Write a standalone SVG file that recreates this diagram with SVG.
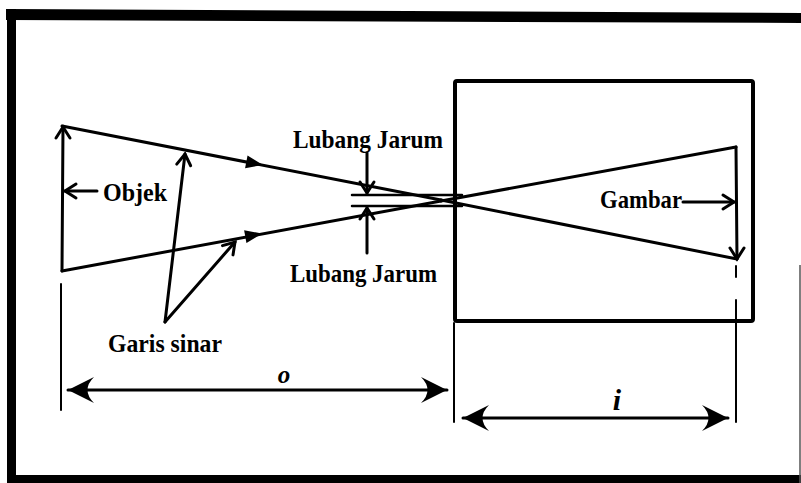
<svg xmlns="http://www.w3.org/2000/svg" width="801" height="483" viewBox="0 0 801 483">
  <style>
    .ln { stroke: #000; fill: none; stroke-linecap: round; stroke-linejoin: round; }
    .ray { stroke-width: 3; }
    .thin { stroke-width: 2; }
    .lbl { font-family: "Liberation Serif", "Times New Roman", serif; font-weight: bold; font-size: 26px; fill: #000; }
    .var { font-family: "Liberation Serif", "Times New Roman", serif; font-weight: bold; font-style: italic; fill: #000; text-anchor: middle; }
    .chev { stroke: #000; stroke-width: 3; fill: none; stroke-linecap: round; stroke-linejoin: miter; }
  </style>
  <defs>
    <!-- large barbed head for the dimension lines -->
    <marker id="dimHead" markerUnits="userSpaceOnUse" viewBox="-28 -15 30 30" refX="0" refY="0" markerWidth="30" markerHeight="30" orient="auto-start-reverse">
      <path d="M0,0 L-26,-13 Q-13,0 -26,13 Z" fill="#000"/>
    </marker>
    <!-- small open chevron for pointer arrows -->
    <path id="chev" d="M-11,-7 L0,0 L-11,7"/>
    <!-- travel direction triangle on a ray -->
    <polygon id="tri" points="0,0 -17,-6.5 -17,6.5"/>
  </defs>

  <rect width="801" height="483" fill="#fff"/>

  <!-- outer frame -->
  <g id="frame">
    <polygon points="6,9 801,13 801,23 6,20" fill="#000"/>
    <rect x="7" y="9" width="9" height="474" fill="#000"/>
    <rect x="7" y="475" width="794" height="8" fill="#000"/>
    <line x1="800" y1="265" x2="800" y2="483" stroke="#555" stroke-width="1.5"/>
  </g>

  <!-- camera box -->
  <g id="camera">
    <rect x="455" y="81" width="298" height="240" fill="none" stroke="#000" stroke-width="4" rx="2"/>
  </g>

  <!-- pinhole plate -->
  <g id="pinhole">
    <line class="ln" x1="352" y1="195" x2="462" y2="195" stroke-width="2.5"/>
    <line class="ln" x1="352" y1="206" x2="462" y2="206" stroke-width="2.5"/>
  </g>

  <g id="connectors">
    <!-- object -->
    <line class="ln ray" x1="62" y1="271" x2="63" y2="127"/>
    <use href="#chev" class="chev" transform="translate(63,127) rotate(-90)"/>

    <!-- light rays -->
    <line class="ln ray" x1="62" y1="126" x2="441" y2="200"/>
    <line class="ln ray" x1="62" y1="271" x2="441" y2="201"/>
    <line class="ln ray" x1="441" y1="200" x2="737" y2="259"/>
    <line class="ln ray" x1="441" y1="201" x2="736" y2="147"/>
    <use href="#tri" transform="translate(263,165) rotate(11)"/>
    <use href="#tri" transform="translate(262,233.5) rotate(-10.5)"/>

    <!-- image -->
    <line class="ln ray" x1="736" y1="147" x2="737" y2="259"/>
    <use href="#chev" class="chev" transform="translate(737,259) rotate(90)"/>

    <!-- Objek pointer -->
    <line class="ln ray" x1="97" y1="191" x2="65" y2="191"/>
    <use href="#chev" class="chev" transform="translate(65,191) rotate(180)"/>

    <!-- Gambar pointer -->
    <line class="ln ray" x1="683" y1="202" x2="734" y2="202"/>
    <use href="#chev" class="chev" transform="translate(734,202)"/>

    <!-- Lubang Jarum pointers -->
    <line class="ln ray" x1="367" y1="153" x2="367" y2="193"/>
    <use href="#chev" class="chev" transform="translate(367,193) rotate(90)"/>
    <line class="ln ray" x1="367" y1="253" x2="367" y2="208"/>
    <use href="#chev" class="chev" transform="translate(367,208) rotate(-90)"/>

    <!-- Garis sinar pointers -->
    <line class="ln ray" x1="165" y1="322" x2="185" y2="154"/>
    <use href="#chev" class="chev" transform="translate(185,154) rotate(-83.2)"/>
    <line class="ln ray" x1="165" y1="322" x2="235" y2="242"/>
    <use href="#chev" class="chev" transform="translate(235,242) rotate(-48.8)"/>

    <!-- extension lines -->
    <line class="ln thin" x1="61" y1="284" x2="61" y2="410"/>
    <line class="ln thin" x1="454" y1="323" x2="454" y2="422"/>
    <line class="ln thin" x1="736" y1="266" x2="736" y2="277"/>
    <line class="ln thin" x1="736" y1="300" x2="736" y2="422"/>

    <!-- dimension lines -->
    <line class="ln ray" x1="68" y1="390" x2="447" y2="390" marker-start="url(#dimHead)" marker-end="url(#dimHead)"/>
    <line class="ln ray" x1="463" y1="418" x2="728" y2="418" marker-start="url(#dimHead)" marker-end="url(#dimHead)"/>
  </g>

  <!-- labels -->
  <g id="labels">
    <text class="lbl" x="293" y="148" textLength="150" lengthAdjust="spacingAndGlyphs">Lubang Jarum</text>
    <text class="lbl" x="290" y="282" textLength="147" lengthAdjust="spacingAndGlyphs">Lubang Jarum</text>
    <text class="lbl" x="103" y="201" textLength="64" lengthAdjust="spacingAndGlyphs">Objek</text>
    <text class="lbl" x="108" y="352" textLength="114" lengthAdjust="spacingAndGlyphs">Garis sinar</text>
    <text class="lbl" x="600" y="208" textLength="82" lengthAdjust="spacingAndGlyphs">Gambar</text>
    <text class="var" x="284" y="383" font-size="25">o</text>
    <text class="var" x="617" y="410" font-size="30">i</text>
  </g>
</svg>
